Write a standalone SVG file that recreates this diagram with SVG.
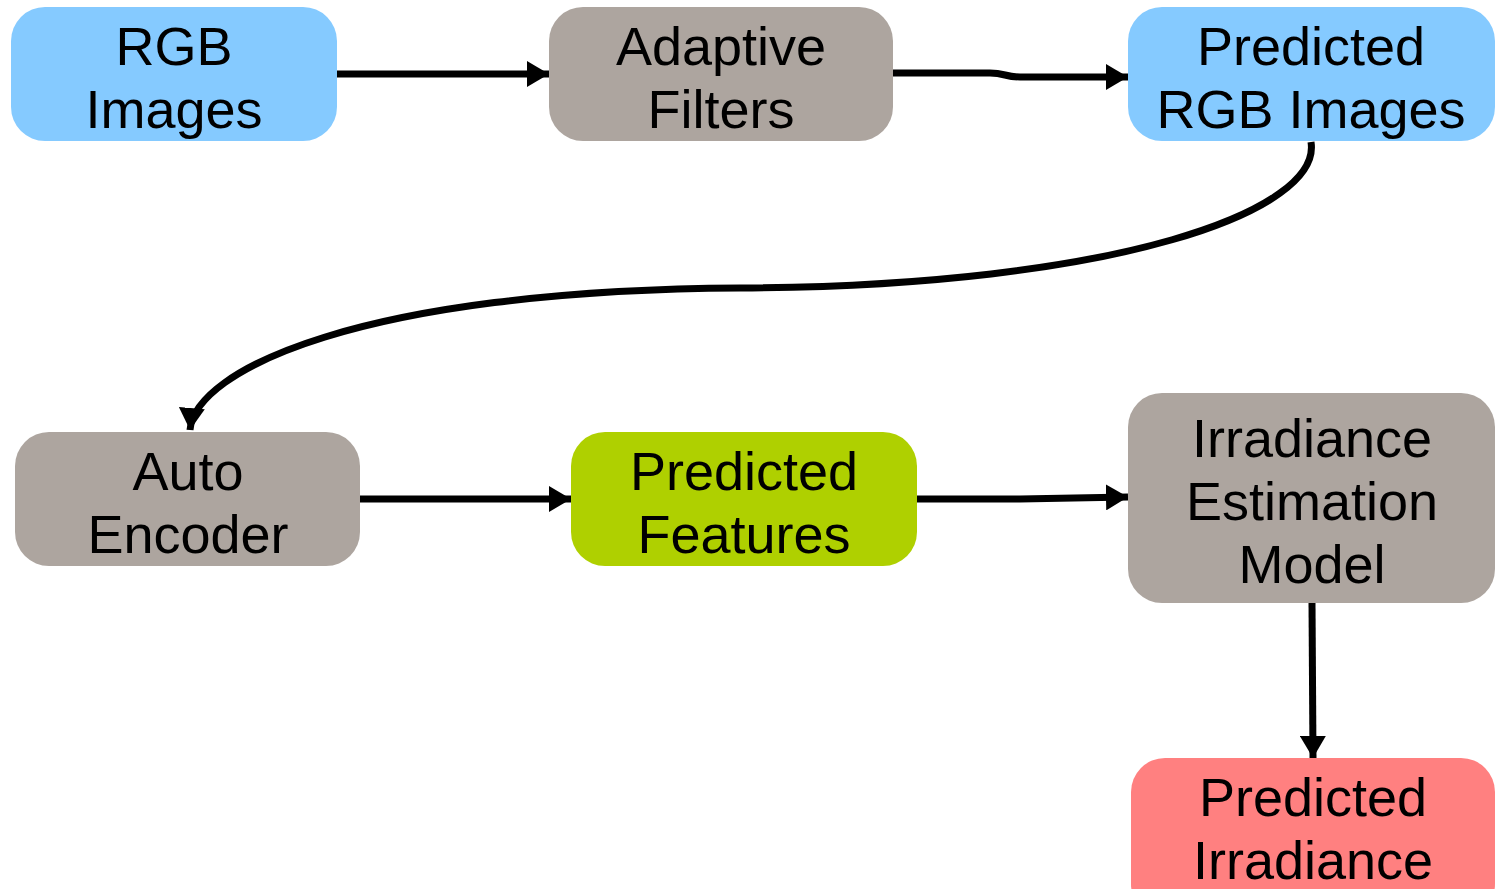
<svg xmlns="http://www.w3.org/2000/svg" width="1501" height="889" viewBox="0 0 1501 889">
  <style>
    .lbl { font-family: "Liberation Sans", Arial, sans-serif; font-size: 54px; fill: #000; text-anchor: middle; }
    .blue { fill: #85CAFF; }
    .gray { fill: #ADA59F; }
    .green { fill: #AFD000; }
    .red { fill: #FF8080; }
    .edge { fill: none; stroke: #000; stroke-width: 7; marker-end: url(#head); }
  </style>
  <defs>
    <marker id="head" markerUnits="userSpaceOnUse" markerWidth="24" markerHeight="26" refX="22" refY="13" orient="auto">
      <path d="M0,0 L22,13 L0,26 Z" fill="#000"/>
    </marker>
  </defs>
  <rect width="1501" height="889" fill="#fff"/>

  <g id="connectors">
    <path class="edge" d="M337,74 L549,74"/>
    <path class="edge" d="M893,73 L990,73 C1005,73 1005,77 1020,77 L1128,77"/>
    <path class="edge" d="M1311,142 C1322,210 1120,286 740,288 C360,290 195,370 190,430"/>
    <path class="edge" d="M360,499 L571,499"/>
    <path class="edge" d="M917,499 L1020,499 L1128,497"/>
    <path class="edge" d="M1312,603 L1313,758"/>
  </g>

  <g id="rgb-images">
    <rect class="blue" x="11" y="7" width="326" height="134" rx="34"/>
    <text class="lbl" x="174" y="65">RGB</text>
    <text class="lbl" x="174" y="128">Images</text>
  </g>

  <g id="adaptive-filters">
    <rect class="gray" x="549" y="7" width="344" height="134" rx="34"/>
    <text class="lbl" x="721" y="65">Adaptive</text>
    <text class="lbl" x="721" y="128">Filters</text>
  </g>

  <g id="predicted-rgb-images">
    <rect class="blue" x="1128" y="7" width="367" height="134" rx="34"/>
    <text class="lbl" x="1311" y="65">Predicted</text>
    <text class="lbl" x="1311" y="128">RGB Images</text>
  </g>

  <g id="auto-encoder">
    <rect class="gray" x="15" y="432" width="345" height="134" rx="34"/>
    <text class="lbl" x="188" y="490">Auto</text>
    <text class="lbl" x="188" y="553">Encoder</text>
  </g>

  <g id="predicted-features">
    <rect class="green" x="571" y="432" width="346" height="134" rx="34"/>
    <text class="lbl" x="744" y="490">Predicted</text>
    <text class="lbl" x="744" y="553">Features</text>
  </g>

  <g id="irradiance-model">
    <rect class="gray" x="1128" y="393" width="367" height="210" rx="34"/>
    <text class="lbl" x="1312" y="457">Irradiance</text>
    <text class="lbl" x="1312" y="520">Estimation</text>
    <text class="lbl" x="1312" y="583">Model</text>
  </g>

  <g id="predicted-irradiance">
    <rect class="red" x="1131" y="758" width="364" height="160" rx="34"/>
    <text class="lbl" x="1313" y="816">Predicted</text>
    <text class="lbl" x="1313" y="879">Irradiance</text>
  </g>
</svg>
